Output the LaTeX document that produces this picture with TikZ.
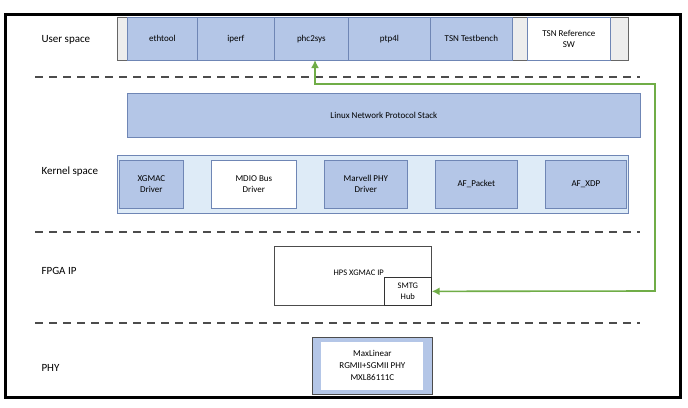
\documentclass[tikz,border=0pt]{standalone}
\usepackage{fontspec}
\setmainfont{Carlito}
\usetikzlibrary{arrows.meta}
\definecolor{bfill}{HTML}{B4C6E7}
\definecolor{bdraw}{HTML}{6F86B5}
\definecolor{kfill}{HTML}{DEEBF7}
\definecolor{gfill}{HTML}{EDEDED}
\definecolor{grn}{HTML}{70AD47}
\begin{document}
\begin{tikzpicture}[x=1pt,y=-1pt,
  box/.style={draw=bdraw,fill=bfill,line width=0.7pt,font=\fontsize{9}{11}\selectfont,align=center,inner sep=0pt},
  lbl/.style={font=\fontsize{11}{13}\selectfont,anchor=west},
  sepline/.style={line width=1.3pt,draw=black!70,dash pattern=on 8pt off 6pt}]
\useasboundingbox (0,0) rectangle (688,407);
\fill[white] (0,0) rectangle (688,407);
\draw[line width=3pt] (5,14) rectangle (680,397);
% user space
\node[box,fill=gfill,draw=black!60,minimum width=511,minimum height=43,anchor=north west] (us) at (117,17) {};
\node[box,minimum width=70,minimum height=43,anchor=north west] (eth) at (127,17) {ethtool};
\node[box,minimum width=77,minimum height=43,anchor=north west] (ip) at (197,17) {iperf};
\node[box,minimum width=74,minimum height=43,anchor=north west] (phc) at (274,17) {phc2sys};
\node[box,minimum width=82,minimum height=43,anchor=north west] (ptp) at (348,17) {ptp4l};
\node[box,minimum width=82,minimum height=43,anchor=north west] (tsn) at (430,17) {TSN Testbench};
\node[box,fill=white,minimum width=83,minimum height=43,anchor=north west] (ref) at (527,17) {TSN Reference\\SW};
\node[lbl] (ul) at (38,40) {User space};
\draw[sepline] (35,77) -- (640,77);
% kernel
\node[box,minimum width=513,minimum height=44,anchor=north west] (lnps) at (127,93) {Linux Network Protocol Stack};
\node[box,fill=kfill,minimum width=511,minimum height=58,anchor=north west] (ks) at (117,155) {};
\node[box,minimum width=64,minimum height=48,anchor=north west] (xg) at (119,160) {XGMAC\\Driver};
\node[box,fill=white,minimum width=85,minimum height=48,anchor=north west] (md) at (211,160) {MDIO Bus\\Driver};
\node[box,minimum width=83,minimum height=48,anchor=north west] (mv) at (324,160) {Marvell PHY\\Driver};
\node[box,minimum width=82,minimum height=48,anchor=north west] (afp) at (435,160) {AF\_Packet};
\node[box,minimum width=81,minimum height=48,anchor=north west] (afx) at (545,160) {AF\_XDP};
\node[lbl] (kl) at (38,172) {Kernel space};
\draw[sepline] (35,232) -- (640,232);
% FPGA
\node[box,fill=white,draw=black!70,minimum width=157,minimum height=59,anchor=north west] (fp) at (274,246) {};
\node[font=\fontsize{8.5}{10}\selectfont,anchor=east,inner sep=1pt] (fpt) at (385,273) {HPS XGMAC IP};
\node[box,fill=white,draw=black!80,minimum width=47,minimum height=28,anchor=north west,font=\fontsize{8.5}{11}\selectfont] (sm) at (384,277) {SMTG\\Hub};
\node[lbl] (fl) at (38,271) {FPGA IP};
\draw[sepline] (35,323) -- (640,323);
% PHY
\node[box,draw=black!70,line width=0.8pt,minimum width=120,minimum height=57,anchor=north west] (ph) at (312,337) {};
\node[fill=white,minimum width=102,minimum height=48,inner sep=0pt,font=\fontsize{9}{12}\selectfont,align=center] (pht) at (ph.center) {MaxLinear\\RGMII+SGMII PHY\\MXL86111C};
\node[lbl] (pl) at (38,368) {PHY};
% green arrow
\coordinate (c1) at (655,291);
\coordinate (c2) at (655,84);
\coordinate (c3) at (315,84);
\coordinate (c4) at (315,60);
\draw[grn,line width=1.6pt,{Latex[length=8pt,width=8pt]}-{Latex[length=8pt,width=8pt]}] (sm.east) -- (c1) -- (c2) -- (c3) -- (c4);
\end{tikzpicture}
\end{document}
